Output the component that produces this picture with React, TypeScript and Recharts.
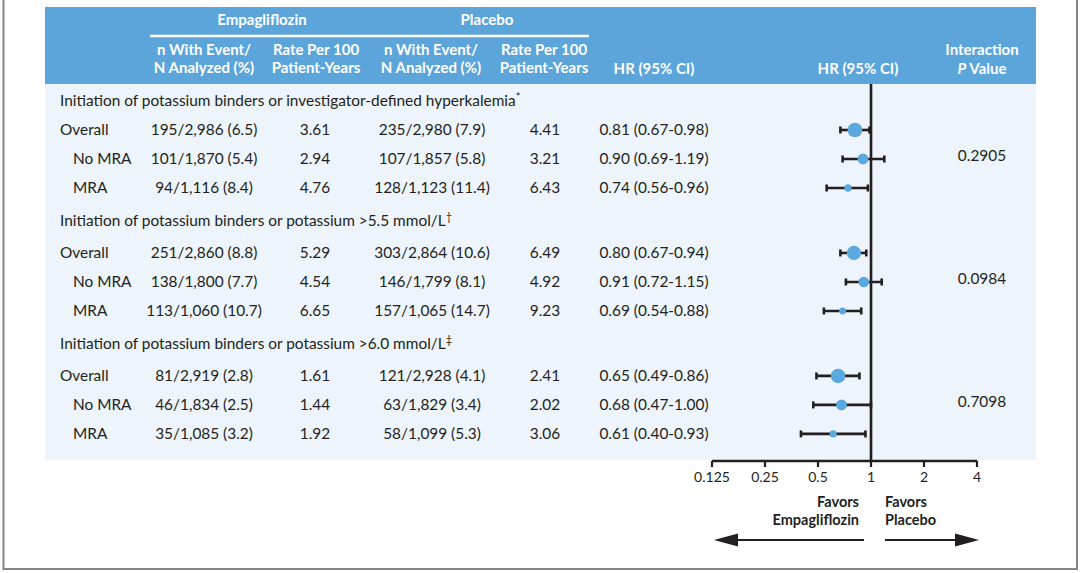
import React from 'react';
import { ComposedChart, Scatter, XAxis, YAxis, ZAxis, ErrorBar, ReferenceLine } from 'recharts';

// ---------------- data ----------------
const sectionTitles = [
  'Initiation of potassium binders or investigator-defined hyperkalemia',
  'Initiation of potassium binders or potassium >5.5 mmol/L',
  'Initiation of potassium binders or potassium >6.0 mmol/L',
];
const sectionMarks = ['*', '\u2020', '\u2021'];
const subgroupLabels = ['Overall', 'No MRA', 'MRA'];

const empEvents = [195, 101, 94, 251, 138, 113, 81, 46, 35];
const empN = [2986, 1870, 1116, 2860, 1800, 1060, 2919, 1834, 1085];
const empPct = [6.5, 5.4, 8.4, 8.8, 7.7, 10.7, 2.8, 2.5, 3.2];
const empRate = [3.61, 2.94, 4.76, 5.29, 4.54, 6.65, 1.61, 1.44, 1.92];
const plaEvents = [235, 107, 128, 303, 146, 157, 121, 63, 58];
const plaN = [2980, 1857, 1123, 2864, 1799, 1065, 2928, 1829, 1099];
const plaPct = [7.9, 5.8, 11.4, 10.6, 8.1, 14.7, 4.1, 3.4, 5.3];
const plaRate = [4.41, 3.21, 6.43, 6.49, 4.92, 9.23, 2.41, 2.02, 3.06];
const hrValues = [0.81, 0.9, 0.74, 0.8, 0.91, 0.69, 0.65, 0.68, 0.61];
const hrLow = [0.67, 0.69, 0.56, 0.67, 0.72, 0.54, 0.49, 0.47, 0.4];
const hrHigh = [0.98, 1.19, 0.96, 0.94, 1.15, 0.88, 0.86, 1.0, 0.93];
const pInteraction = ['0.2905', '0.0984', '0.7098'];
const xTicks = [0.125, 0.25, 0.5, 1, 2, 4];

// ---------------- layout / style ----------------
const INK = '#231f20';
const BLUE = '#5ba5db';
const LIGHT = '#edf4fc';
const DOT = '#5ba8de';
const FONT = 'Lato, "Noto Sans", sans-serif';
const FS = 15.4;
const GROUP_GAP = 0.24;
const HEADER_SHIFT = 0.12;

const fmtInt = (v: number) => v.toLocaleString('en-US');
const nText = (e: number, n: number, p: number) => `${e}/${fmtInt(n)} (${p.toFixed(1)})`;

type Row = any;
const tableRows: Row[] = [];
const hrRows: Row[] = [];
sectionTitles.forEach((title, g) => {
  const base = g * 4 + GROUP_GAP * g;
  tableRows.push({ kind: 'section', x: 1, y: base - (g > 0 ? HEADER_SHIFT : 0), title, mark: sectionMarks[g] });
  subgroupLabels.forEach((label, j) => {
    const i = g * 3 + j;
    const y = base + j + 1;
    tableRows.push({
      kind: 'data',
      x: 1,
      y,
      label,
      indent: j > 0,
      emp: nText(empEvents[i], empN[i], empPct[i]),
      empRate: empRate[i].toFixed(2),
      pla: nText(plaEvents[i], plaN[i], plaPct[i]),
      plaRate: plaRate[i].toFixed(2),
      hrText: `${hrValues[i].toFixed(2)} (${hrLow[i].toFixed(2)}-${hrHigh[i].toFixed(2)})`,
      p: j === 1 ? pInteraction[g] : null,
    });
    hrRows.push({
      x: hrValues[i],
      y,
      err: [hrValues[i] - hrLow[i], hrHigh[i] - hrValues[i]],
      weight: empN[i] + plaN[i],
    });
  });
});

const COLS = { label: 60, indent: 73, emp: 204, empRate: 315, pla: 432, plaRate: 545, hr: 654, p: 982 };

const TableRowShape = (props: any) => {
  const { cy, payload } = props;
  const common = { fontFamily: FONT, fontSize: FS, fill: INK, dy: '0.35em' } as any;
  if (payload.kind === 'section') {
    return (
      <text x={COLS.label} y={cy} {...common}>
        {payload.title}
        <tspan fontSize={11} dy={-5}>{payload.mark}</tspan>
      </text>
    );
  }
  return (
    <g>
      <text x={payload.indent ? COLS.indent : COLS.label} y={cy} {...common}>{payload.label}</text>
      <text x={COLS.emp} y={cy} textAnchor="middle" {...common}>{payload.emp}</text>
      <text x={COLS.empRate} y={cy} textAnchor="middle" {...common}>{payload.empRate}</text>
      <text x={COLS.pla} y={cy} textAnchor="middle" {...common}>{payload.pla}</text>
      <text x={COLS.plaRate} y={cy} textAnchor="middle" {...common}>{payload.plaRate}</text>
      <text x={COLS.hr} y={cy} textAnchor="middle" {...common}>{payload.hrText}</text>
      {payload.p && (
        <text x={COLS.p} y={cy - 3} textAnchor="middle" {...common}>{payload.p}</text>
      )}
    </g>
  );
};

const PLOT_TOP = 84;
const PLOT_BOTTOM = 461;
const ROW0_Y = 101;
const ROW_PX = 29;
const Y_DOMAIN = [-(ROW0_Y - PLOT_TOP) / ROW_PX, (PLOT_BOTTOM - ROW0_Y) / ROW_PX];

const Underlay = () => {
  const hdr = { fontFamily: FONT, fontSize: 15, fontWeight: 700, fill: '#ffffff', textAnchor: 'middle' } as any;
  const fav = { fontFamily: FONT, fontSize: 14.5, fontWeight: 700, fill: INK } as any;
  return (
    <svg width={1080} height={573} style={{ position: 'absolute', left: 0, top: 0 }}>
      <line x1={3.5} y1={0} x2={3.5} y2={569} stroke="#858585" strokeWidth={2} />
      <line x1={1077} y1={0} x2={1077} y2={569} stroke="#858585" strokeWidth={2} />
      <line x1={2.5} y1={569} x2={1078} y2={569} stroke="#858585" strokeWidth={2} />
      <rect x={45} y={7} width={991} height={77} fill={BLUE} />
      <rect x={45} y={84} width={991} height={376} fill={LIGHT} />
      <text x={262} y={20} dy="0.35em" {...hdr}>Empagliflozin</text>
      <text x={487} y={20} dy="0.35em" {...hdr}>Placebo</text>
      <line x1={150} y1={36} x2={589} y2={36} stroke="#ffffff" strokeWidth={2.5} />
      <text x={204} y={50} dy="0.35em" {...hdr}>n With Event/</text>
      <text x={204} y={68} dy="0.35em" {...hdr}>N Analyzed (%)</text>
      <text x={316} y={50} dy="0.35em" {...hdr}>Rate Per 100</text>
      <text x={316} y={68} dy="0.35em" {...hdr}>Patient-Years</text>
      <text x={431} y={50} dy="0.35em" {...hdr}>n With Event/</text>
      <text x={431} y={68} dy="0.35em" {...hdr}>N Analyzed (%)</text>
      <text x={544} y={50} dy="0.35em" {...hdr}>Rate Per 100</text>
      <text x={544} y={68} dy="0.35em" {...hdr}>Patient-Years</text>
      <text x={654} y={69} dy="0.35em" {...hdr}>HR (95% CI)</text>
      <text x={858} y={69} dy="0.35em" {...hdr}>HR (95% CI)</text>
      <text x={982} y={50} dy="0.35em" {...hdr}>Interaction</text>
      <text x={982} y={69} dy="0.35em" {...hdr}>
        <tspan fontStyle="italic">P</tspan> Value
      </text>
      <text x={859} y={502} dy="0.35em" textAnchor="end" {...fav}>Favors</text>
      <text x={859} y={520} dy="0.35em" textAnchor="end" {...fav}>Empagliflozin</text>
      <text x={885} y={502} dy="0.35em" {...fav}>Favors</text>
      <text x={885} y={520} dy="0.35em" {...fav}>Placebo</text>
      <line x1={864} y1={540} x2={730} y2={540} stroke={INK} strokeWidth={2.2} />
      <polygon points="714,540 738,533.5 738,546.5" fill={INK} />
      <line x1={885} y1={540} x2={960} y2={540} stroke={INK} strokeWidth={2.2} />
      <polygon points="979,540 955,533.5 955,546.5" fill={INK} />
    </svg>
  );
};

export default function App() {
  return (
    <div style={{ position: 'absolute', left: 0, top: 0, width: 1080, height: 573, background: '#ffffff' }}>
      <Underlay />
      <div style={{ position: 'absolute', left: 0, top: 0 }}>
        <ComposedChart
          width={1080}
          height={573}
          margin={{ top: PLOT_TOP, right: 103, bottom: 573 - PLOT_BOTTOM - 30, left: 712 }}
        >
          <XAxis
            dataKey="x"
            type="number"
            scale="log"
            domain={[0.125, 4]}
            ticks={xTicks}
            interval={0}
            height={30}
            axisLine={{ stroke: INK, strokeWidth: 2.6 }}
            tickLine={{ stroke: INK, strokeWidth: 2.2 }}
            tickSize={6}
            tickMargin={5}
            tick={{ fill: INK, fontSize: 14, fontFamily: FONT }}
          />
          <YAxis dataKey="y" type="number" domain={Y_DOMAIN} reversed hide />
          <ZAxis dataKey="weight" type="number" domain={[1000, 6000]} range={[0, 170]} />
          <ReferenceLine x={1} stroke={INK} strokeWidth={2.6} />
          <Scatter data={tableRows} shape={TableRowShape} isAnimationActive={false} />
          <Scatter data={hrRows} fill={DOT} isAnimationActive={false}>
            <ErrorBar dataKey="err" direction="x" width={3.5} stroke={INK} strokeWidth={2.6} />
          </Scatter>
        </ComposedChart>
      </div>
    </div>
  );
}
